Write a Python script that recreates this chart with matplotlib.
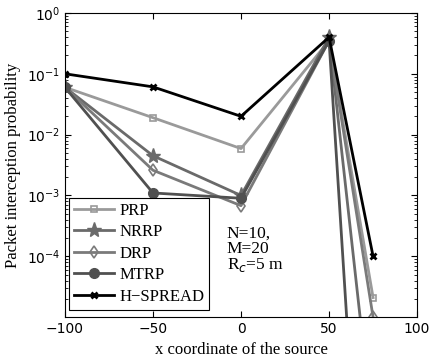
import matplotlib
matplotlib.use('Agg')
import matplotlib.pyplot as plt
import numpy as np

x = [-100, -50, 0, 50, 75]
prp = [0.06, 0.019, 0.0059, 0.35, 2.1e-5]
nrrp = [0.06, 0.0045, 0.001, 0.4, 1.2e-7]
drp = [0.06, 0.0026, 0.00068, 0.35, 1.0e-5]
mtrp = [0.06, 0.0011, 0.0009, 0.35, 1.5e-12]
hspread = [0.1, 0.061, 0.02, 0.4, 1.0e-4]

fig = plt.figure(figsize=(4.3, 3.6), dpi=100)
ax = fig.add_axes([0.151, 0.119, 0.819, 0.845])

ax.plot(x, prp, color='#9a9a9a', lw=2, marker='s', ms=5, mfc='none', mew=1.2, label='PRP')
ax.plot(x, nrrp, color='#6a6a6a', lw=2, marker='*', ms=11, label='NRRP')
ax.plot(x, drp, color='#7a7a7a', lw=2, marker='d', ms=6, mfc='none', mew=1.2, label='DRP')
ax.plot(x, mtrp, color='#505050', lw=2, marker='o', ms=7, label='MTRP')
ax.plot(x, hspread, color='black', lw=2, marker='x', ms=5, mew=2, label='H\u2212SPREAD')

ax.set_yscale('log')
ax.set_xlim(-100, 100)
ax.set_ylim(1e-5, 1)
ax.set_xticks([-100, -50, 0, 50, 100])
ax.set_yticks([1e-4, 1e-3, 1e-2, 1e-1, 1e0])
ax.tick_params(which='both', direction='in', top=True, right=True, labelsize=10)
ax.tick_params(which='major', length=4)
ax.tick_params(which='minor', length=2)
for lab in ax.get_xticklabels() + ax.get_yticklabels():
    lab.set_family('DejaVu Sans')

ax.set_xlabel('x coordinate of the source', family='Liberation Serif', fontsize=12)
ax.set_ylabel('Packet interception probability', family='Liberation Serif', fontsize=12)

ax.text(-8, 3.2e-4, 'N=10,\nM=20\nR$_c$=5 m', family='Liberation Serif', fontsize=12.5,
        va='top', ha='left', linespacing=0.95)

leg = ax.legend(loc='lower left', bbox_to_anchor=(-0.012, -0.003), fancybox=False,
                edgecolor='black', framealpha=1, prop={'family': 'Liberation Serif', 'size': 12},
                handlelength=2.4, labelspacing=0.33, borderpad=0.3, handletextpad=0.3)
leg.get_frame().set_linewidth(0.8)

fig.savefig('out.png', dpi=100)
